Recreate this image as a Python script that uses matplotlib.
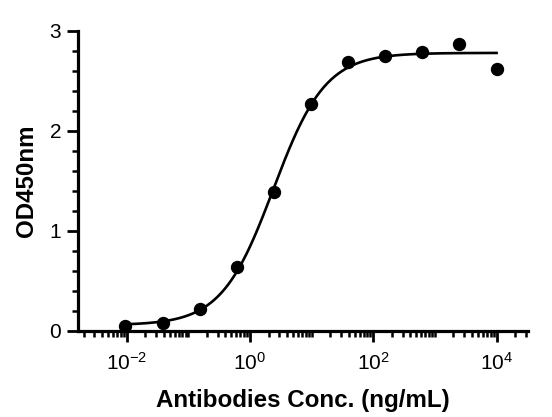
import numpy as np
import matplotlib
matplotlib.use("Agg")
import matplotlib.pyplot as plt
from matplotlib.ticker import FixedLocator, LogLocator, MultipleLocator, NullFormatter

# ---- data ----
conc = [0.00954, 0.0381, 0.153, 0.610, 2.44, 9.77, 39.1, 156.0, 625.0, 2500.0, 10000.0]
od450 = [0.05, 0.08, 0.22, 0.64, 1.39, 2.27, 2.69, 2.75, 2.79, 2.87, 2.62]
xtick_vals = [1e-2, 1e0, 1e2, 1e4]
xtick_labels = ['10$^{-2}$', '10$^{0}$', '10$^{2}$', '10$^{4}$']
ytick_vals = [0, 1, 2, 3]
ytick_labels = ['0', '1', '2', '3']
xlabel = 'Antibodies Conc. (ng/mL)'
ylabel = 'OD450nm'

# ---- 4PL fit (grid search on EC50/Hill, linear LS for bottom/top) ----
x = np.array(conc)
y = np.array(od450)
best = None
for lec in np.linspace(-1, 2, 301):
    for h in np.linspace(0.5, 2.0, 151):
        f = 1.0 / (1.0 + (10**lec / x) ** h)
        A = np.vstack([np.ones_like(f), f]).T
        coef, res, *_ = np.linalg.lstsq(A, y, rcond=None)
        r = np.sum((A @ coef - y) ** 2)
        if best is None or r < best[0]:
            best = (r, lec, h, coef)
_, lec, h, coef = best
xf = np.logspace(np.log10(x.min()), np.log10(x.max()), 400)
yf = coef[0] + coef[1] / (1.0 + (10**lec / xf) ** h)

# ---- style ----
plt.rcParams['font.family'] = ['Liberation Sans', 'DejaVu Sans']
plt.rcParams['mathtext.fontset'] = 'custom'
plt.rcParams['mathtext.rm'] = 'Liberation Sans'
plt.rcParams['mathtext.it'] = 'Liberation Sans:italic'
plt.rcParams['mathtext.bf'] = 'Liberation Sans:bold'

fig = plt.figure(figsize=(5.52, 4.17), dpi=100)
ax = fig.add_axes([78/552, 1 - 331/417, (528-78)/552, 300/417])

ax.plot(xf, yf, color='black', lw=1.9, zorder=2)
ax.plot(x, y, 'o', color='black', ms=8.6, zorder=3, clip_on=False)

ax.set_xscale('log')
ax.set_xlim(10**-2.79, 10**4.51)
ax.set_ylim(0, 3)

ax.xaxis.set_major_locator(FixedLocator(xtick_vals))
ax.set_xticks(xtick_vals)
ax.set_xticklabels(xtick_labels)
ax.xaxis.set_minor_locator(LogLocator(base=10, subs=np.arange(1, 10), numticks=100))
ax.xaxis.set_minor_formatter(NullFormatter())
ax.set_yticks(ytick_vals)
ax.set_yticklabels(ytick_labels)
ax.yaxis.set_minor_locator(MultipleLocator(0.2))

for s in ['top', 'right']:
    ax.spines[s].set_visible(False)
for s in ['left', 'bottom']:
    ax.spines[s].set_linewidth(2.3)
ax.tick_params(which='major', length=8, width=2, labelsize=15)
ax.tick_params(axis='x', which='major', pad=7)
ax.tick_params(axis='y', which='major', pad=4)
ax.tick_params(which='minor', length=4.5, width=1.8)

ax.set_xlabel(xlabel, fontsize=17.4, fontweight='bold', labelpad=11)
ax.set_ylabel(ylabel, fontsize=17.4, fontweight='bold', labelpad=8)

fig.savefig('out.png', dpi=100)
